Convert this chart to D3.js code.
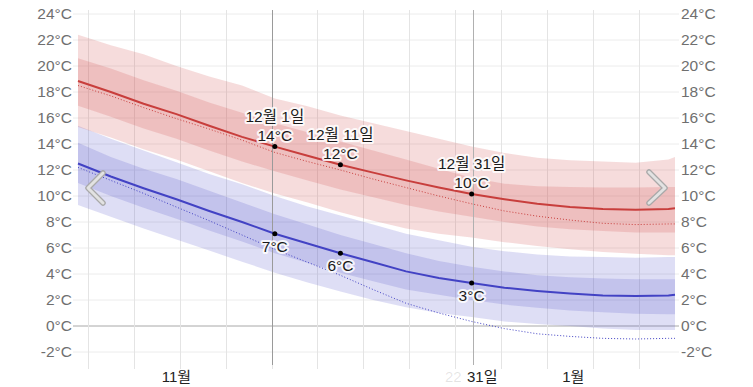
<!DOCTYPE html>
<html><head><meta charset="utf-8">
<script src="https://cdn.jsdelivr.net/npm/d3@7"></script>
<style>
html,body{margin:0;padding:0;background:#fff;}
svg{display:block;font-family:"Liberation Sans",Arial,"Noto Sans CJK KR",sans-serif;}
</style></head>
<body><svg id="c" width="753" height="387"></svg>
<script>
// day offsets from Nov 1
const days   = [0,5,10,15,20,25,30,35,40,45,50,55,60,65,70,75,80,85,90,91];
const hiMean = [18.85,18.0,17.1,16.3,15.4,14.55,13.8,13.1,12.4,11.8,11.2,10.65,10.15,9.75,9.4,9.15,9.0,8.95,9.0,9.05];
const hiDot  = [18.5,17.7,16.8,15.95,15.15,14.3,13.35,12.65,12.0,11.3,10.65,10.0,9.4,8.85,8.45,8.15,7.9,7.8,7.85,7.85];
const hiP90  = [22.4,21.6,20.9,20.0,19.2,18.5,17.5,16.9,16.2,15.6,15.0,14.4,13.8,13.3,12.95,12.75,12.65,12.55,12.8,13.0];
const hiP75  = [20.6,19.8,18.9,18.1,17.2,16.4,15.6,14.9,14.2,13.5,12.8,12.1,11.4,10.95,10.75,10.7,10.65,10.65,10.7,10.7];
const hiP25  = [16.95,16.1,15.2,14.4,13.5,12.65,11.9,11.2,10.5,9.9,9.3,8.8,8.4,8.0,7.65,7.45,7.3,7.2,7.2,7.2];
const hiP10  = [15.3,14.5,13.6,12.8,11.9,11.0,10.2,9.5,8.75,8.1,7.5,7.1,6.8,6.45,6.15,5.9,5.7,5.55,5.45,5.45];
const loMean = [12.5,11.5,10.6,9.75,8.85,8.0,7.1,6.35,5.6,4.9,4.2,3.7,3.3,2.95,2.7,2.5,2.35,2.3,2.35,2.4];
const loDot  = [12.2,11.2,10.2,9.15,8.1,7.0,5.9,4.9,3.9,2.8,1.75,1.0,0.35,-0.2,-0.6,-0.8,-0.95,-1.0,-0.95,-0.95];
const loP90  = [15.4,14.4,13.5,12.6,11.7,10.9,10.0,9.2,8.5,7.8,7.1,6.6,6.1,5.75,5.5,5.35,5.3,5.25,5.3,5.3];
const loP75  = [14.1,13.0,12.1,11.3,10.4,9.5,8.6,7.8,7.0,6.3,5.6,5.0,4.55,4.2,3.9,3.75,3.65,3.6,3.6,3.6];
const loP25  = [11.0,10.0,9.1,8.25,7.35,6.5,5.6,4.85,4.1,3.45,2.8,2.4,2.0,1.65,1.4,1.2,1.05,0.95,0.9,0.9];
const loP10  = [9.3,8.4,7.5,6.65,5.8,4.95,4.1,3.35,2.65,2.0,1.45,1.0,0.7,0.35,0.15,0.0,-0.2,-0.3,-0.3,-0.3];

const yTicks = [-2,0,2,4,6,8,10,12,14,16,18,20,22,24];
const gridDays = [1.5,8.5,15.5,22.5,29.5,36.5,43.5,50.5,57.5,64.5,71.5,78.5,85.5];
const monthLabels = [{day:15,text:"11월"},{day:75.5,text:"1월"}];
const markDays = [{day:30,text:"12월 1일"},{day:40,text:"12월 11일"},{day:60,text:"12월 31일"}];
const todayDay = 29.5, selDay = 60.2;

const svg = d3.select("#c");
const x = d3.scaleLinear().domain([0,91]).range([78,675]);
const y = d3.scaleLinear().domain([0,24]).range([326,14]);

// horizontal grid
svg.append("g").selectAll("line").data(yTicks).join("line")
  .attr("x1",73).attr("x2",679).attr("y1",d=>y(d)).attr("y2",d=>y(d))
  .attr("stroke",d=>d===0?"#a8a8a8":"#ececec").attr("stroke-width",1);
// vertical grid
svg.append("g").selectAll("line").data(gridDays).join("line")
  .attr("x1",d=>Math.round(x(d))+0.5).attr("x2",d=>Math.round(x(d))+0.5)
  .attr("y1",10).attr("y2",369).attr("stroke","#e4e4e4");

// axes labels
const yl = d3.axisLeft(y).tickValues(yTicks).tickSize(0).tickPadding(0).tickFormat(d=>d+"°C");
const yr = d3.axisRight(y).tickValues(yTicks).tickSize(0).tickPadding(0).tickFormat(d=>d+"°C");
const gl = svg.append("g").attr("transform","translate(72,0)").call(yl);
const gr = svg.append("g").attr("transform","translate(681,0)").call(yr);
[gl,gr].forEach(g=>{g.select(".domain").remove();
  g.selectAll("text").attr("fill","#6f6f6f").attr("font-size",15.5).attr("font-family","Liberation Sans, Arial, sans-serif");});

const pts = a => days.map((d,i)=>[d,a[i]]);
const area = (lo,hi) => d3.area().x((d,i)=>x(days[i])).y0((d,i)=>y(lo[i])).y1((d,i)=>y(hi[i]))(days);
const line = d3.line().x(d=>x(d[0])).y(d=>y(d[1]));

const red="rgb(200,62,60)", blue="rgb(66,66,196)";
// bands
svg.append("path").attr("d",area(loP10,loP90)).attr("fill","rgb(70,70,200)").attr("fill-opacity",0.18);
svg.append("path").attr("d",area(loP25,loP75)).attr("fill","rgb(70,70,200)").attr("fill-opacity",0.18);
svg.append("path").attr("d",area(hiP10,hiP90)).attr("fill","rgb(205,70,70)").attr("fill-opacity",0.19);
svg.append("path").attr("d",area(hiP25,hiP75)).attr("fill","rgb(205,70,70)").attr("fill-opacity",0.19);

// vertical marker lines
svg.append("line").attr("x1",Math.round(x(todayDay))+0.5).attr("x2",Math.round(x(todayDay))+0.5)
  .attr("y1",10).attr("y2",365).attr("stroke","#9a9a9a");
svg.append("line").attr("x1",Math.round(x(selDay))+0.5).attr("x2",Math.round(x(selDay))+0.5)
  .attr("y1",10).attr("y2",365).attr("stroke","#b0b0b0");

// dotted lines
svg.append("path").attr("d",line(pts(hiDot))).attr("fill","none").attr("stroke",red).attr("stroke-width",1).attr("stroke-dasharray","1,2");
svg.append("path").attr("d",line(pts(loDot))).attr("fill","none").attr("stroke",blue).attr("stroke-width",1).attr("stroke-dasharray","1,2");
// mean lines
svg.append("path").attr("d",line(pts(hiMean))).attr("fill","none").attr("stroke",red).attr("stroke-width",2);
svg.append("path").attr("d",line(pts(loMean))).attr("fill","none").attr("stroke",blue).attr("stroke-width",2);

// chevrons
const chev = (p)=>{svg.append("polyline").attr("points",p).attr("fill","none").attr("stroke","#a9a9a9").attr("stroke-width",5.5).attr("stroke-linecap","round").attr("stroke-linejoin","round");
  svg.append("polyline").attr("points",p).attr("fill","none").attr("stroke","#e2e2e2").attr("stroke-width",3).attr("stroke-linecap","round").attr("stroke-linejoin","round");};
chev("103,173 88,188 103,203");
chev("649,172 665,188 649,203");

// annotations
const interp = (arr,d)=>{const i=d3.bisectRight(days,d)-1; const j=Math.min(i+1,days.length-1);
  const t=j===i?0:(d-days[i])/(days[j]-days[i]); return arr[i]+(arr[j]-arr[i])*t;};
const halo = sel=>sel.attr("stroke","#fff").attr("stroke-width",4).attr("stroke-opacity",0.85).attr("stroke-linejoin","round").attr("paint-order","stroke");
markDays.forEach(m=>{
  const hv=interp(hiMean,m.day), lv=interp(loMean,m.day), px=x(m.day);
  const g=svg.append("g").attr("font-size",15.5).attr("fill","#1a1a1a").attr("text-anchor","middle");
  g.append("text").attr("x",px).attr("y",y(hv)-25).text(m.text).call(halo);
  g.append("text").attr("x",px).attr("y",y(hv)-6).text(Math.round(hv)+"°C").call(halo);
  g.append("text").attr("x",px).attr("y",y(lv)+18).text(Math.round(lv)+"°C").call(halo);
  svg.append("circle").attr("cx",px).attr("cy",y(hv)).attr("r",2.5).attr("fill","#000");
  svg.append("circle").attr("cx",px).attr("cy",y(lv)).attr("r",2.5).attr("fill","#000");
});

// month labels
svg.append("g").selectAll("text").data(monthLabels).join("text")
  .attr("x",d=>x(d.day)).attr("y",382).attr("text-anchor","middle").attr("font-size",15).attr("fill","#222").text(d=>d.text);
svg.append("text").attr("x",445).attr("y",382).attr("font-size",15).attr("fill","#222").attr("fill-opacity",0.12).text("22");
svg.append("text").attr("x",467).attr("y",382).attr("font-size",15).attr("fill","#222").text("31일");
</script></body></html>
